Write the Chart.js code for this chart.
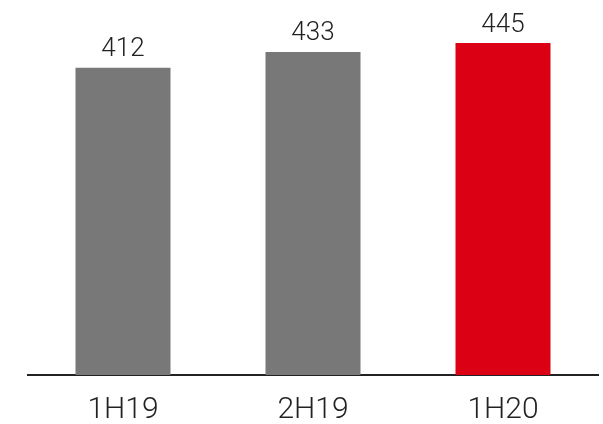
<!DOCTYPE html>
<html>
<head>
<meta charset="utf-8">
<script src="https://cdn.jsdelivr.net/npm/chart.js@4/dist/chart.umd.min.js"></script>
<style>
  html, body { margin: 0; padding: 0; background: #fff; }
  #wrap { width: 603px; height: 424px; position: relative; }
</style>
</head>
<body>
<div id="wrap"><canvas id="barChart"></canvas></div>
<script>
// chart data
const categories = ['1H19', '2H19', '1H20'];
const values = [412, 433, 445];
const barColors = ['#787878', '#787878', '#dc0014'];

// draws the value above each bar
const valueLabels = {
    id: 'valueLabels',
    afterDatasetsDraw(chart) {
        const ctx = chart.ctx;
        const meta = chart.getDatasetMeta(0);
        ctx.save();
        ctx.font = '300 26px Roboto';
        ctx.fillStyle = '#222';
        ctx.textAlign = 'center';
        ctx.textBaseline = 'bottom';
        meta.data.forEach(function(bar, i) {
            ctx.fillText(values[i], bar.x, bar.y - 5);
        });
        ctx.restore();
    }
};

window.onload = function() {
    const ctx = document.getElementById('barChart').getContext('2d');
    new Chart(ctx, {
        type: 'bar',
        data: {
            labels: categories,
            datasets: [{
                data: values,
                backgroundColor: barColors,
                barPercentage: 0.5,
                categoryPercentage: 1.0
            }]
        },
        options: {
            responsive: true,
            maintainAspectRatio: false,
            animation: false,
            layout: { padding: { left: 28, right: 5, top: 2, bottom: -13 } },
            plugins: {
                legend: { display: false },
                tooltip: { enabled: false }
            },
            scales: {
                x: {
                    grid: { display: false },
                    border: { display: true, color: '#222', width: 2 },
                    ticks: {
                        color: '#222',
                        font: { family: 'Roboto', size: 30, weight: '300' },
                        padding: 9
                    }
                },
                y: {
                    display: false,
                    min: 0,
                    max: 500
                }
            }
        },
        plugins: [valueLabels]
    });
};
</script>
</body>
</html>
